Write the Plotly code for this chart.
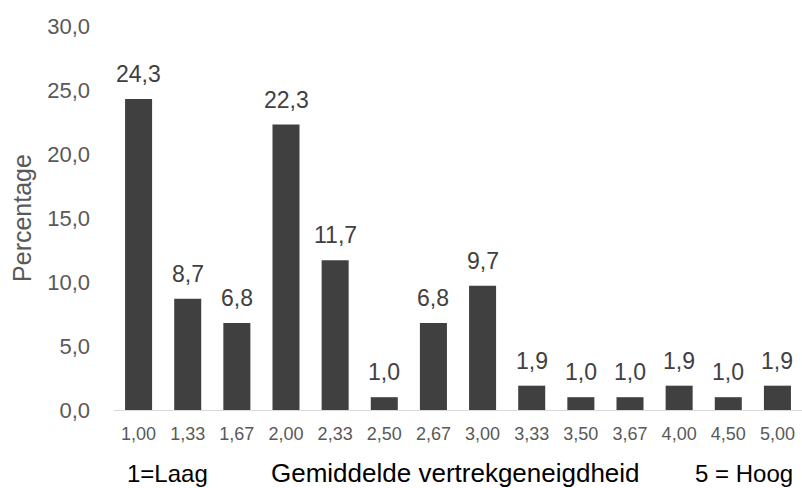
import plotly.graph_objects as go

# Average score categories and their share of respondents (%)
categories = ["1,00", "1,33", "1,67", "2,00", "2,33", "2,50", "2,67",
              "3,00", "3,33", "3,50", "3,67", "4,00", "4,50", "5,00"]
percentages = [24.3, 8.7, 6.8, 22.3, 11.7, 1.0, 6.8,
               9.7, 1.9, 1.0, 1.0, 1.9, 1.0, 1.9]

FONT = "Arial, Liberation Sans, sans-serif"
TEXT = "#595959"
W, H = 802, 488
ML, MR, MT, MB = 114, 0, 26, 78

fig = go.Figure(
    go.Bar(
        x=categories,
        y=percentages,
        marker=dict(color="#404040", line=dict(width=0)),
        hoverinfo="x+y",
    )
)

# Value labels above each bar
annotations = [
    dict(x=c, y=v, xref="x", yref="y", text=f"{v:.1f}".replace(".", ","),
         showarrow=False, xanchor="center", yanchor="bottom", yshift=10,
         font=dict(family=FONT, size=23, color="#404040"))
    for c, v in zip(categories, percentages)
]

# Captions below the category labels (pixel positions converted to paper units)
pw, ph = W - ML - MR, H - MT - MB
def paper_x(px):
    return (px - ML) / pw
def paper_y(py):
    return (H - MB - py) / ph

for txt, px, size in [("1=Laag", 167, 24),
                      ("Gemiddelde vertrekgeneigdheid", 455, 26),
                      ("5 = Hoog", 744, 24)]:
    annotations.append(dict(text=txt, x=paper_x(px), y=paper_y(473),
                            xref="paper", yref="paper", xanchor="center",
                            yanchor="middle", showarrow=False,
                            font=dict(family=FONT, size=size, color="#000000")))

fig.update_layout(
    width=W,
    height=H,
    margin=dict(l=ML, r=MR, t=MT, b=MB),
    paper_bgcolor="white",
    plot_bgcolor="white",
    separators=",.",
    bargap=0.45,
    showlegend=False,
    font=dict(family=FONT, color=TEXT),
    xaxis=dict(
        type="category",
        showgrid=False,
        showline=True,
        linecolor="#d9d9d9",
        linewidth=1,
        ticks="",
        tickfont=dict(family=FONT, size=18, color=TEXT),
        ticklabelstandoff=7,
    ),
    yaxis=dict(
        range=[0, 30],
        dtick=5,
        tickformat=".1f",
        showgrid=False,
        zeroline=False,
        showline=False,
        ticks="",
        tickfont=dict(family=FONT, size=22, color=TEXT),
        ticklabelstandoff=23,
        title=dict(text="Percentage", font=dict(family=FONT, size=25, color=TEXT), standoff=8),
    ),
    annotations=annotations,
)

fig.write_html("out.html")
